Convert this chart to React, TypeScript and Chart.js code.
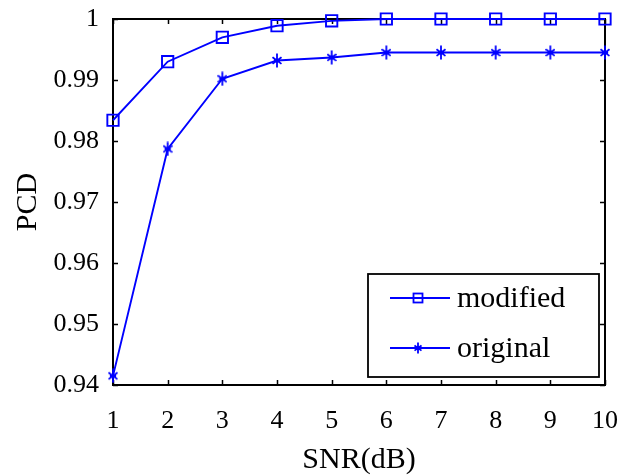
import { useEffect, useRef } from 'react';
import { Chart, registerables } from 'chart.js';
Chart.register(...registerables);

const snr = [1, 2, 3, 4, 5, 6, 7, 8, 9, 10];
const modifiedPcd = [0.9834, 0.993, 0.997, 0.9989, 0.9997, 1, 1, 1, 1, 1];
const originalPcd = [0.9415, 0.9787, 0.9902, 0.9932, 0.9937, 0.9945, 0.9945, 0.9945, 0.9945, 0.9945];
const xTickValues = [1, 2, 3, 4, 5, 6, 7, 8, 9, 10];
const yTickValues = [0.94, 0.95, 0.96, 0.97, 0.98, 0.99, 1];
const seriesNames = ['modified', 'original'];
const xTitle = 'SNR(dB)';
const yTitle = 'PCD';

const BLUE = '#0000ff';
const FONT = "'Liberation Serif', 'Times New Roman', serif";

function makeStar(w: number, h: number): HTMLCanvasElement {
  const c = document.createElement('canvas');
  c.width = w;
  c.height = h;
  const g = c.getContext('2d')!;
  g.strokeStyle = BLUE;
  g.lineWidth = 1.8;
  const cx = w / 2;
  const cy = h / 2;
  const rx = w / 2 - 0.5;
  const ry = rx * 0.75;
  g.beginPath();
  g.moveTo(cx, 0.5);
  g.lineTo(cx, h - 0.5);
  g.moveTo(cx - rx, cy - ry);
  g.lineTo(cx + rx, cy + ry);
  g.moveTo(cx - rx, cy + ry);
  g.lineTo(cx + rx, cy - ry);
  g.moveTo(cx - rx * 0.7, cy);
  g.lineTo(cx + rx * 0.7, cy);
  g.stroke();
  return c;
}

export default function App() {
  const ref = useRef<HTMLCanvasElement | null>(null);
  useEffect(() => {
    document.body.style.margin = '0';
    const star = makeStar(10, 15);
    const starSmall = makeStar(8, 12);

    const framePlugin = {
      id: 'frame',
      beforeDatasetsDraw(chart: any) {
        const { ctx, chartArea: a, scales } = chart;
        ctx.save();
        ctx.strokeStyle = '#000';
        ctx.lineWidth = 2;
        ctx.strokeRect(a.left, a.top, a.right - a.left, a.bottom - a.top);
        ctx.lineWidth = 1.5;
        const tl = 5;
        ctx.beginPath();
        for (const v of xTickValues) {
          const x = Math.round(scales.x.getPixelForValue(v)) + 0.5;
          ctx.moveTo(x, a.bottom);
          ctx.lineTo(x, a.bottom - tl);
          ctx.moveTo(x, a.top);
          ctx.lineTo(x, a.top + tl);
        }
        for (const v of yTickValues) {
          const y = Math.round(scales.y.getPixelForValue(v)) + 0.5;
          ctx.moveTo(a.left, y);
          ctx.lineTo(a.left + tl, y);
          ctx.moveTo(a.right, y);
          ctx.lineTo(a.right - tl, y);
        }
        ctx.stroke();
        ctx.restore();
      },
      afterDraw(chart: any) {
        const { ctx } = chart;
        ctx.save();
        ctx.fillStyle = '#fff';
        ctx.fillRect(368, 274, 231, 103);
        ctx.strokeStyle = '#000';
        ctx.lineWidth = 1.8;
        ctx.strokeRect(368, 274, 231, 103);
        const rows = [298, 348];
        ctx.font = `30px ${FONT}`;
        ctx.textBaseline = 'middle';
        ctx.textAlign = 'left';
        seriesNames.forEach((name, i) => {
          const y = rows[i];
          ctx.strokeStyle = BLUE;
          ctx.lineWidth = 1.8;
          ctx.beginPath();
          ctx.moveTo(390, y);
          ctx.lineTo(450, y);
          ctx.stroke();
          if (i === 0) {
            ctx.strokeRect(413.5, y - 4.5, 9, 9);
          } else {
            ctx.drawImage(starSmall, 418 - starSmall.width / 2, y - starSmall.height / 2);
          }
          ctx.fillStyle = '#000';
          ctx.fillText(name, 457, y + 1);
        });
        ctx.restore();
      },
    };

    const chart = new Chart(ref.current!, {
      type: 'line',
      data: {
        datasets: [
          {
            label: seriesNames[0],
            data: snr.map((x, i) => ({ x, y: modifiedPcd[i] })),
            borderColor: BLUE,
            borderWidth: 1.9,
            pointStyle: 'rect',
            pointRadius: 8,
            pointBorderWidth: 1.9,
            pointBorderColor: BLUE,
            pointBackgroundColor: 'rgba(0,0,0,0)',
            tension: 0,
            clip: false,
          } as any,
          {
            label: seriesNames[1],
            data: snr.map((x, i) => ({ x, y: originalPcd[i] })),
            borderColor: BLUE,
            borderWidth: 1.9,
            pointStyle: star,
            pointRadius: 7,
            tension: 0,
            clip: false,
          } as any,
        ],
      },
      options: {
        animation: false,
        responsive: false,
        maintainAspectRatio: false,
        events: [],
        layout: { padding: { top: 19, right: 16, left: 0, bottom: 0 } },
        plugins: { legend: { display: false }, tooltip: { enabled: false } },
        scales: {
          x: {
            type: 'linear',
            min: 1,
            max: 10,
            grid: { display: false },
            border: { display: false },
            afterBuildTicks: (s: any) => {
              s.ticks = xTickValues.map((v) => ({ value: v }));
            },
            afterFit: (s: any) => {
              s.height = 91;
              s.paddingLeft = 0;
              s.paddingRight = 0;
              s.paddingTop = 0;
              s.paddingBottom = 0;
            },
            ticks: {
              color: '#000',
              font: { family: FONT, size: 26 },
              padding: 13,
              maxRotation: 0,
              autoSkip: false,
            },
            title: {
              display: true,
              text: xTitle,
              color: '#000',
              font: { family: FONT, size: 30, lineHeight: 1 },
              padding: { top: 0, bottom: 1 },
            },
          },
          y: {
            type: 'linear',
            min: 0.94,
            max: 1,
            grid: { display: false },
            border: { display: false },
            afterBuildTicks: (s: any) => {
              s.ticks = yTickValues.map((v) => ({ value: v }));
            },
            afterFit: (s: any) => {
              s.width = 113;
              s.paddingLeft = 0;
              s.paddingRight = 0;
              s.paddingTop = 0;
              s.paddingBottom = 0;
            },
            ticks: {
              color: '#000',
              font: { family: FONT, size: 26 },
              padding: 6,
              autoSkip: false,
              callback: (v: any) => String(Math.round(v * 100) / 100),
            },
            title: {
              display: true,
              text: yTitle,
              color: '#000',
              font: { family: FONT, size: 30, lineHeight: 1 },
              padding: { top: 13, bottom: 0 },
            },
          },
        },
      },
      plugins: [framePlugin],
    });
    return () => chart.destroy();
  }, []);
  return (
    <div style={{ position: 'fixed', left: 0, top: 0, width: 621, height: 476, background: '#fff' }}>
      <canvas ref={ref} width={621} height={476} style={{ width: 621, height: 476, display: 'block' }} />
    </div>
  );
}
